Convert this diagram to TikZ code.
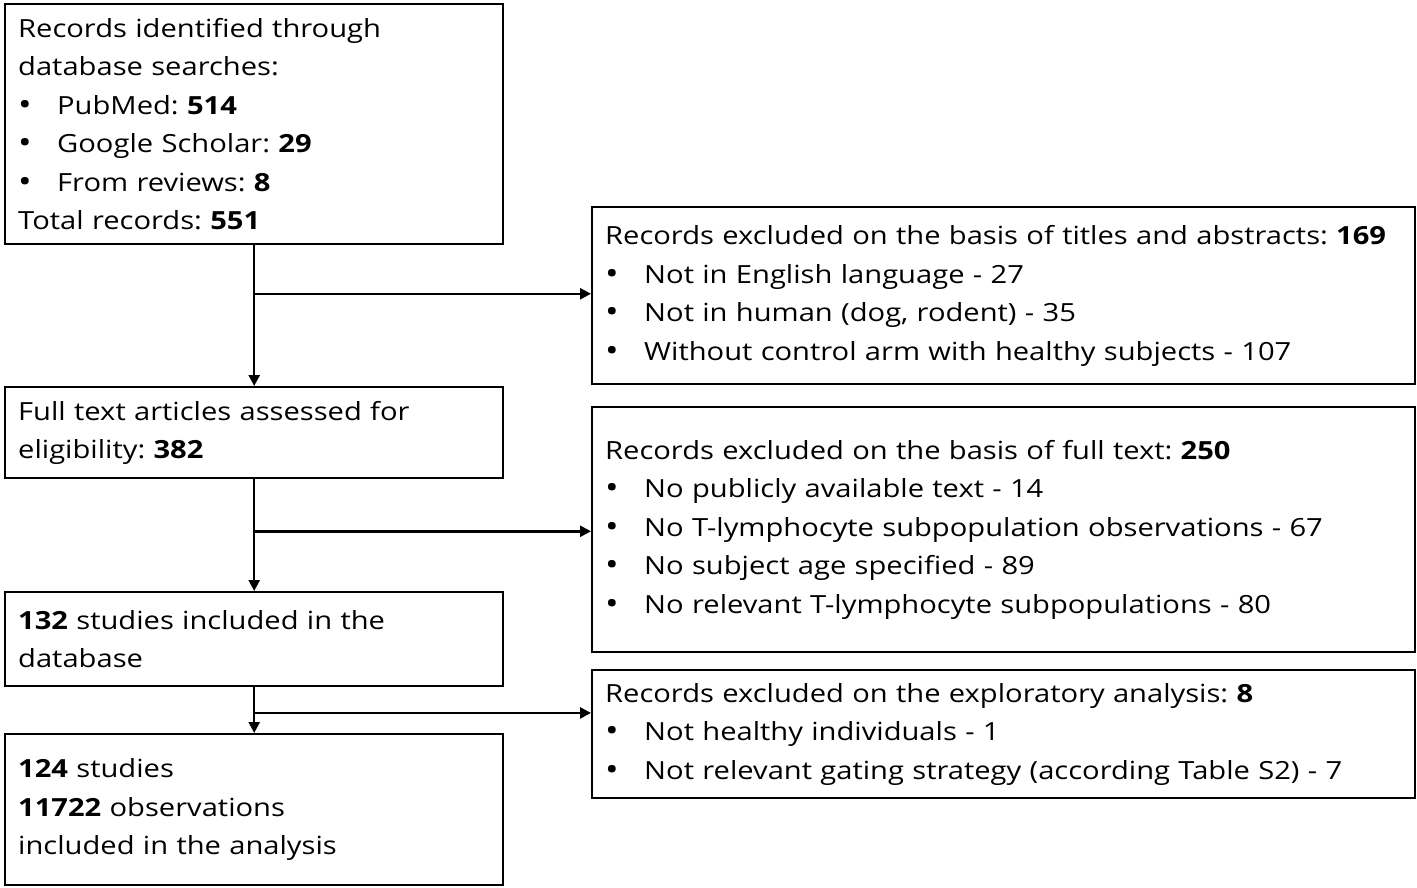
\documentclass[tikz,border=0pt]{standalone}
\usepackage{fontspec}
\setmainfont{Open Sans}[FakeStretch=1.165]
\usetikzlibrary{arrows.meta,calc}
\frenchspacing
\newcommand{\bl}[1]{\makebox[39pt][l]{\raisebox{-1pt}{\fontsize{31}{38.5}\selectfont\textbullet}}#1}
\begin{document}
\begin{tikzpicture}[x=1pt,y=-1pt,
  box/.style={draw=black, line width=2.4pt, anchor=north west, align=left,
    inner xsep=13pt, inner ysep=0pt, font=\fontsize{25}{38.5}\selectfont},
  lbox/.style={box, text width=472pt, minimum width=498pt},
  rbox/.style={box, text width=797pt, minimum width=823pt},
  arr/.style={line width=2.4pt, -{Triangle[length=11pt,width=11pt]}}]
\useasboundingbox (0,0) rectangle (1417,887);
\node[lbox, minimum height=240pt] (b1) at (4,3) {Records identified through\\database searches:\\\bl{PubMed: \textbf{514}}\\\bl{Google Scholar: \textbf{29}}\\\bl{From reviews: \textbf{8}}\\Total records: \textbf{551}};
\node[rbox, minimum height=177pt] (b2) at (591,206) {Records excluded on the basis of titles and abstracts: \textbf{169}\\\bl{Not in English language - 27}\\\bl{Not in human (dog, rodent) - 35}\\\bl{Without control arm with healthy subjects - 107}};
\node[lbox, minimum height=91pt] (b3) at (4,386) {Full text articles assessed for\\eligibility: \textbf{382}};
\node[rbox, minimum height=245pt] (b4) at (591,406) {Records excluded on the basis of full text: \textbf{250}\\\bl{No publicly available text - 14}\\\bl{No T-lymphocyte subpopulation observations - 67}\\\bl{No subject age specified - 89}\\\bl{No relevant T-lymphocyte subpopulations - 80}};
\node[lbox, minimum height=94pt] (b5) at (4,591) {\textbf{132} studies included in the\\database};
\node[rbox, minimum height=128pt] (b6) at (591,669) {Records excluded on the exploratory analysis: \textbf{8}\\\bl{Not healthy individuals - 1}\\\bl{Not relevant gating strategy (according Table S2) - 7}};
\node[lbox, minimum height=151pt] (b7) at (4,733) {\textbf{124} studies\\\textbf{11722} observations\\included in the analysis};
\coordinate (j1) at ($(b1.south)!0.344!(b3.north)$);
\coordinate (j2) at ($(b3.south)!0.465!(b5.north)$);
\coordinate (j3) at ($(b5.south)!0.56!(b7.north)$);
\draw[arr] (b1.south) -- (b3.north);
\draw[arr] (j1) -- (j1 -| b2.west);
\draw[arr] (b3.south) -- (b5.north);
\draw[arr] (j2) -- (j2 -| b4.west);
\draw[arr] (b5.south) -- (b7.north);
\draw[arr] (j3) -- (j3 -| b6.west);
\end{tikzpicture}
\end{document}
